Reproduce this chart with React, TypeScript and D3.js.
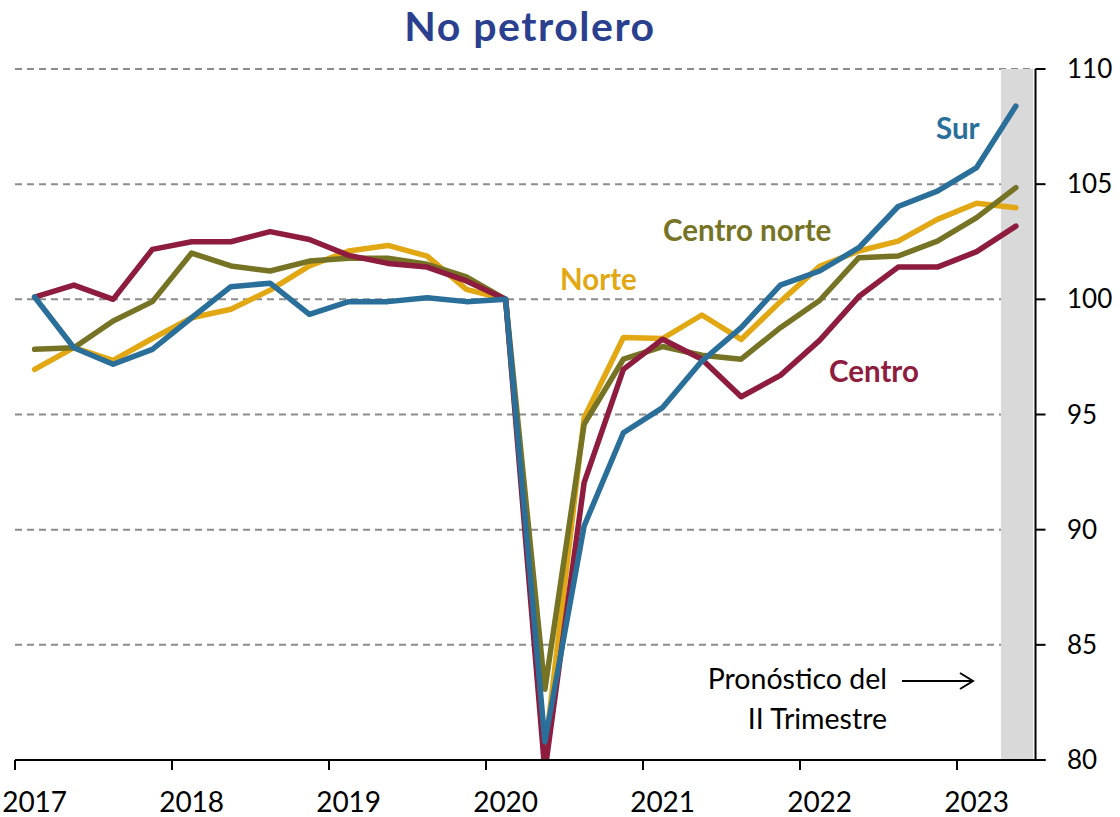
import React from "react";
import * as d3 from "d3";

const quarters = [
  "2017T1","2017T2","2017T3","2017T4",
  "2018T1","2018T2","2018T3","2018T4",
  "2019T1","2019T2","2019T3","2019T4",
  "2020T1","2020T2","2020T3","2020T4",
  "2021T1","2021T2","2021T3","2021T4",
  "2022T1","2022T2","2022T3","2022T4",
  "2023T1","2023T2",
];
const years = ["2017","2018","2019","2020","2021","2022","2023"];
const yTicks = [80, 85, 90, 95, 100, 105, 110];

const norte = [96.96, 97.9, 97.35, 98.3, 99.2, 99.57, 100.4, 101.45, 102.1, 102.34, 101.88, 100.43, 100.0, 80.3, 94.86, 98.34, 98.3, 99.32, 98.26, 99.9, 101.43, 102.1, 102.53, 103.47, 104.17, 103.98];
const centroNorte = [97.83, 97.9, 99.06, 99.9, 102.01, 101.45, 101.23, 101.66, 101.78, 101.78, 101.52, 100.98, 100.0, 83.07, 94.57, 97.4, 97.95, 97.57, 97.4, 98.77, 99.95, 101.81, 101.88, 102.53, 103.55, 104.85];
const centro = [100.1, 100.62, 100.0, 102.17, 102.5, 102.5, 102.94, 102.6, 101.91, 101.56, 101.4, 100.8, 100.0, 79.5, 92.04, 96.96, 98.27, 97.4, 95.77, 96.7, 98.22, 100.12, 101.4, 101.4, 102.07, 103.18];
const sur = [100.1, 97.9, 97.18, 97.83, 99.2, 100.55, 100.7, 99.35, 99.9, 99.9, 100.07, 99.9, 100.0, 80.79, 90.16, 94.21, 95.3, 97.32, 98.77, 100.62, 101.23, 102.24, 104.03, 104.7, 105.72, 108.39];

const seriesList = [
  { name: "Norte", values: norte, color: "#e2a813" },
  { name: "Centro norte", values: centroNorte, color: "#767325" },
  { name: "Centro", values: centro, color: "#8d1c3e" },
  { name: "Sur", values: sur, color: "#2a6e9a" },
];

const labels = [
  { name: "Sur", x: 936, y: 139, color: "#2a6e9a" },
  { name: "Centro norte", x: 663, y: 241, color: "#767325" },
  { name: "Norte", x: 560, y: 290, color: "#e2a813" },
  { name: "Centro", x: 829, y: 382, color: "#8d1c3e" },
];

const FONT = "Lato, 'Open Sans', sans-serif";

export default function App() {
  const W = 1120, H = 817;
  const left = 15, right = 1035.5, top = 69, bottom = 760;
  const x = d3.scaleBand<string>().domain(quarters).range([left, right]).padding(0);
  const bw = x.bandwidth();
  const y = d3.scaleLinear().domain([80, 110]).range([bottom, top]);
  const cx = (q: string) => (x(q) as number) + bw / 2;

  const line = d3
    .line<number>()
    .x((_, i) => cx(quarters[i]))
    .y((v) => y(v));

  const last = quarters[quarters.length - 1];
  const shadeX = (x(last) as number) + bw * 0.12;
  const shadeW = bw * 0.82;

  return (
    <svg width={W} height={H} style={{ position: "absolute", left: 0, top: 0, background: "#fff" }}>
      <defs>
        <clipPath id="plotclip">
          <rect x={0} y={0} width={W} height={bottom} />
        </clipPath>
      </defs>
      <text x={530} y={41} textAnchor="middle" fontFamily={FONT} fontWeight={700} fontSize={41} letterSpacing={1.5} fill="#2b3f8f">
        No petrolero
      </text>
      {yTicks.filter((t) => t > 80).map((t) => (
        <line key={t} x1={left} x2={right} y1={y(t)} y2={y(t)} stroke="#8c8c8c" strokeWidth={2} strokeDasharray="7,5" />
      ))}
      <rect x={shadeX} y={y(110)} width={shadeW} height={bottom - y(110)} fill="#d9d9d9" />
      <g clipPath="url(#plotclip)">
        {seriesList.map((s) => (
          <path key={s.name} d={line(s.values) || ""} fill="none" stroke={s.color} strokeWidth={5.5} strokeLinejoin="round" strokeLinecap="round" />
        ))}
      </g>
      {/* x axis */}
      <line x1={left} x2={right + 10} y1={bottom} y2={bottom} stroke="#000" strokeWidth={2} />
      {years.map((yr) => {
        const xx = x(yr + "T1") as number;
        return <line key={yr} x1={xx} x2={xx} y1={bottom} y2={bottom + 10} stroke="#000" strokeWidth={2} />;
      })}
      {years.map((yr) => (
        <text key={yr} x={cx(yr + "T1")} y={812} textAnchor="middle" fontFamily={FONT} fontSize={28} fill="#000">
          {yr}
        </text>
      ))}
      {/* y axis */}
      <line x1={right} x2={right} y1={top} y2={bottom} stroke="#000" strokeWidth={2} />
      {yTicks.map((t) => (
        <g key={t}>
          <line x1={right} x2={right + 10} y1={y(t)} y2={y(t)} stroke="#000" strokeWidth={2} />
          <text x={1067} y={y(t)} dy="0.35em" fontFamily={FONT} fontSize={26} fill="#000">
            {t}
          </text>
        </g>
      ))}
      {labels.map((l) => (
        <text key={l.name} x={l.x} y={l.y} fontFamily={FONT} fontWeight={700} fontSize={29.5} fill={l.color}>
          {l.name}
        </text>
      ))}
      <text x={887} y={689} textAnchor="end" fontFamily={FONT} fontSize={28.5} fill="#000">Pronóstico del</text>
      <text x={887} y={729} textAnchor="end" fontFamily={FONT} fontSize={28.5} fill="#000">II Trimestre</text>
      <line x1={902} x2={973} y1={681} y2={681} stroke="#000" strokeWidth={2} />
      <polyline points="960,673 973,681 960,689" fill="none" stroke="#000" strokeWidth={2} />
    </svg>
  );
}
